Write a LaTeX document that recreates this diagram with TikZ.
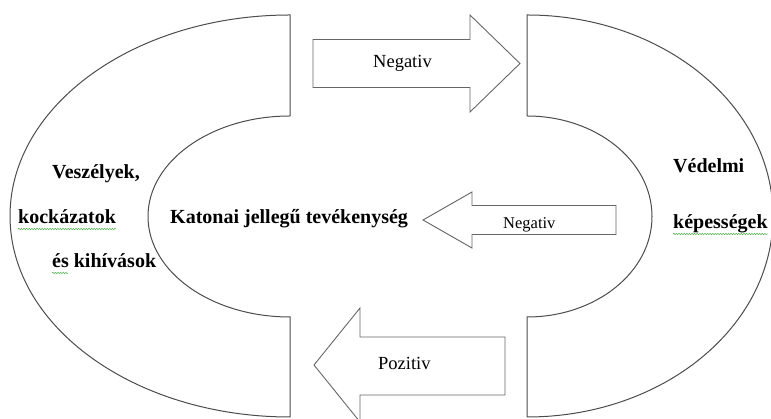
\documentclass[tikz,border=0pt]{standalone}
\usepackage{fontspec}
\setmainfont{Liberation Serif}
\usetikzlibrary{decorations.pathmorphing}
\begin{document}
\begin{tikzpicture}[x=1pt,y=1pt,
  shapeline/.style={draw=black!70, line width=1pt},
  arrowline/.style={draw=black!60, line width=0.9pt},
  boldlabel/.style={anchor=base west, inner sep=0pt, font=\bfseries\fontsize{20}{24}\selectfont, text=black},
  arrowlabel/.style={anchor=base west, inner sep=0pt, font=\fontsize{18.5}{22}\selectfont, text=black},
  spell/.style={draw=green!55!black!70, line width=0.5pt, decorate, decoration={snake, amplitude=0.7pt, segment length=2.6pt}}
]
\useasboundingbox (0,0) rectangle (771,419);
\clip (0,0) rectangle (771,419);
% left shape
\draw[shapeline] (290,404) arc[start angle=90, end angle=270, x radius=280, y radius=201]
  -- (290,102) arc[start angle=270, end angle=90, x radius=142, y radius=100.5] -- cycle;
% right shape
\draw[shapeline] (527,404) arc[start angle=90, end angle=-90, x radius=246, y radius=201]
  -- (527,102) arc[start angle=-90, end angle=90, x radius=125, y radius=100.5] -- cycle;
% top arrow (right)
\draw[arrowline] (313,379.5) -- (470,379.5) -- (470,404) -- (520,355.5) -- (470,307) -- (470,331.5) -- (313,331.5) -- cycle;
% middle arrow (left)
\draw[arrowline] (616,213.5) -- (472,213.5) -- (472,227) -- (423,199) -- (472,171) -- (472,184.5) -- (616,184.5) -- cycle;
% bottom arrow (left)
\draw[arrowline] (505,82) -- (360,82) -- (360,111) -- (314,54) -- (360,-3) -- (360,24) -- (505,24) -- cycle;
% labels
\node[arrowlabel] (neg1) at (373,351) {Negativ};
\node[arrowlabel, font=\fontsize{16.5}{20}\selectfont] (neg2) at (503,190) {Negativ};
\node[arrowlabel] (poz) at (378,49) {Pozitiv};
\node[boldlabel] (vesz) at (52,240) {Veszélyek,};
\node[boldlabel] (kock) at (18,195) {kockázatok};
\node[boldlabel] (kih) at (52,151) {és kihívások};
\node[boldlabel] (kat) at (170,195) {Katonai jellegű tevékenység};
\node[boldlabel] (ved) at (673,246) {Védelmi};
\node[boldlabel] (kep) at (673,190) {képességek};
% spell-check underlines
\draw[spell] ([yshift=-5pt]kock.base west) -- ([yshift=-5pt]kock.base east);
\draw[spell] (52,146) -- (68,146);
\draw[spell] ([yshift=-5pt]kep.base west) -- ([yshift=-5pt]kep.base east);
\end{tikzpicture}
\end{document}
